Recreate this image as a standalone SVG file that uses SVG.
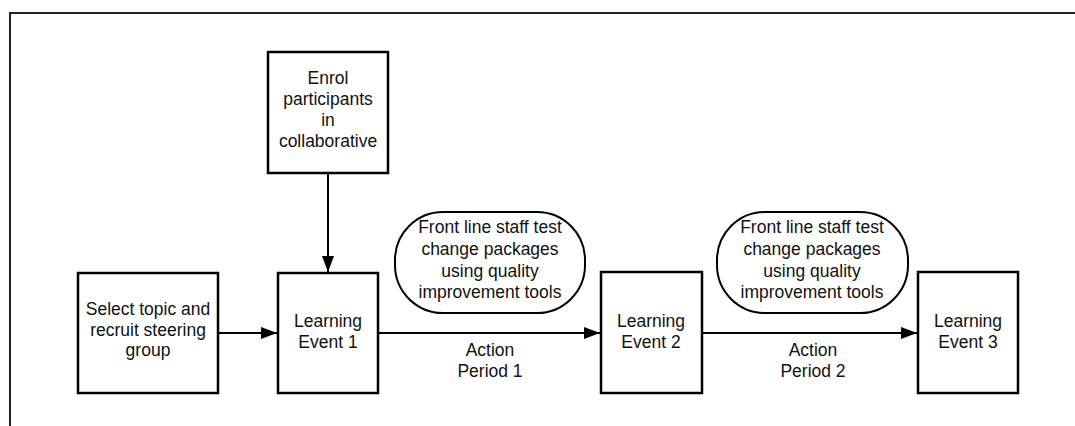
<svg xmlns="http://www.w3.org/2000/svg" width="1075" height="426" viewBox="0 0 1075 426">
  <defs>
    <marker id="arrow" markerWidth="16" markerHeight="12" refX="16" refY="6" orient="auto" markerUnits="userSpaceOnUse">
      <path d="M0,0 L16,6 L0,12 Z" fill="#000"/>
    </marker>
    <style>
      .box { fill: #fff; stroke: #000; stroke-width: 2.5; }
      .pill { fill: #fff; stroke: #000; stroke-width: 2; }
      .lbl { font-family: "Liberation Sans", Arial, sans-serif; font-size: 17.5px; fill: #111; text-anchor: middle; }
      .edge { fill: none; stroke: #000; stroke-width: 2; }
    </style>
  </defs>
  <rect width="1075" height="426" fill="#fff"/>

  <!-- page frame (top and left edges) -->
  <path d="M10,426 L10,13 L1075,13" fill="none" stroke="#222" stroke-width="2"/>

  <!-- connectors -->
  <g id="connectors">
    <line class="edge" x1="328" y1="173" x2="328" y2="272" marker-end="url(#arrow)"/>
    <line class="edge" x1="218" y1="333" x2="277" y2="333" marker-end="url(#arrow)"/>
    <line class="edge" x1="378" y1="333" x2="600" y2="333" marker-end="url(#arrow)"/>
    <line class="edge" x1="702" y1="333" x2="917" y2="333" marker-end="url(#arrow)"/>
  </g>

  <g id="enrol">
    <rect class="box" x="268" y="52" width="120" height="121"/>
    <text class="lbl" x="328" y="84">Enrol</text>
    <text class="lbl" x="328" y="105">participants</text>
    <text class="lbl" x="328" y="126">in</text>
    <text class="lbl" x="328" y="147">collaborative</text>
  </g>

  <g id="select-topic">
    <rect class="box" x="78" y="273" width="140" height="120"/>
    <text class="lbl" x="148" y="315">Select topic and</text>
    <text class="lbl" x="148" y="336">recruit steering</text>
    <text class="lbl" x="148" y="356">group</text>
  </g>

  <g id="learning-event-1">
    <rect class="box" x="278" y="273" width="100" height="120"/>
    <text class="lbl" x="328" y="327">Learning</text>
    <text class="lbl" x="328" y="348">Event 1</text>
  </g>

  <g id="front-line-1">
    <rect class="pill" x="395" y="212" width="190" height="101" rx="48" ry="48"/>
    <text class="lbl" x="490" y="233">Front line staff test</text>
    <text class="lbl" x="490" y="255">change packages</text>
    <text class="lbl" x="490" y="277">using quality</text>
    <text class="lbl" x="490" y="298">improvement tools</text>
  </g>

  <g id="action-period-1">
    <text class="lbl" x="490" y="356">Action</text>
    <text class="lbl" x="490" y="377">Period 1</text>
  </g>

  <g id="learning-event-2">
    <rect class="box" x="601" y="272" width="101" height="121"/>
    <text class="lbl" x="651" y="327">Learning</text>
    <text class="lbl" x="651" y="348">Event 2</text>
  </g>

  <g id="front-line-2">
    <rect class="pill" x="717" y="212" width="191" height="101" rx="48" ry="48"/>
    <text class="lbl" x="812" y="233">Front line staff test</text>
    <text class="lbl" x="812" y="255">change packages</text>
    <text class="lbl" x="812" y="277">using quality</text>
    <text class="lbl" x="812" y="298">improvement tools</text>
  </g>

  <g id="action-period-2">
    <text class="lbl" x="813" y="356">Action</text>
    <text class="lbl" x="813" y="377">Period 2</text>
  </g>

  <g id="learning-event-3">
    <rect class="box" x="918" y="272" width="100" height="121"/>
    <text class="lbl" x="968" y="327">Learning</text>
    <text class="lbl" x="968" y="348">Event 3</text>
  </g>
</svg>
